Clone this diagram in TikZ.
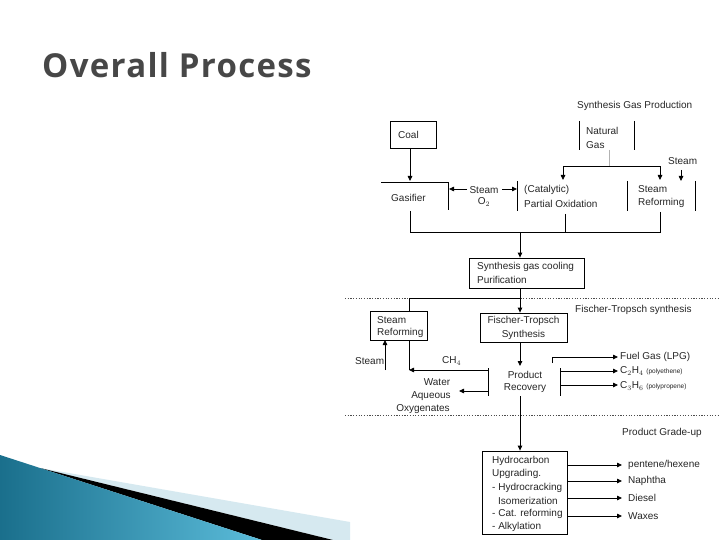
\documentclass[tikz,border=0pt]{standalone}
\usepackage{fontspec}
\setmainfont{Liberation Sans}
\newfontfamily\titlefont[LetterSpace=4]{Open Sans}
\usetikzlibrary{arrows.meta}
\newcommand\smalltxt[1]{{\fontsize{6.5}{7}\selectfont #1}}
\definecolor{tealdark}{HTML}{1A6F8C}
\definecolor{teallight}{HTML}{5BBCDA}
\definecolor{paleblue}{HTML}{D6E9F0}
\begin{document}
\begin{tikzpicture}[x=1pt,y=-1pt,
  lbl/.style={font=\fontsize{10}{11}\selectfont,inner sep=0pt,anchor=west,text=black!85},
  ln/.style={draw=black,line width=0.8pt},
  arr/.style={ln,-{Triangle[length=5pt,width=4.5pt]}},
  bx/.style={draw=black,line width=0.8pt,inner sep=0pt},
  dots/.style={draw=black!70,line width=0.7pt,dash pattern=on 1.2pt off 1.5pt},
  ttl/.style={anchor=base west,inner sep=0pt,font=\titlefont\bfseries\fontsize{33}{40}\selectfont}]
\useasboundingbox (0,0) rectangle (720,540);
\fill[white] (0,0) rectangle (720,540);
% decoration
\fill[paleblue] (40,468) -- (350,522) -- (350,540) -- (333,540) -- cycle;
\fill[black] (40,468) -- (333,540) -- (262,540) -- cycle;
\shade[shading angle=60,left color=tealdark, right color=teallight] (0,455) -- (40,468) -- (262,540) -- (0,540) -- cycle;
% title
\node[ttl,text=black!72] (title) at (42,78) {Overall Process};
% headers
\node[lbl] (h1) at (577,106) {Synthesis Gas Production};
\node[lbl] (h2) at (575,310) {Fischer-Tropsch synthesis};
\node[lbl] (h3) at (622,433) {Product Grade-up};
\path[dots] (345,298) -- (720,298);
\path[dots] (345,415) -- (720,415);
% coal
\draw[ln] (390,121) rectangle (436,148);
\node[lbl] (coal) at (398,135) {Coal};
\coordinate (coalb) at (410,148);
\coordinate (gast) at (410,181);
\draw[arr] (coalb) -- (gast);
% gasifier
\draw[ln] (381,182) -- (448,182) -- (448,210);
\node[lbl] (gas) at (391,198) {Gasifier};
\node[lbl,anchor=center] (st1) at (484,190) {Steam};
\node[lbl,anchor=center] (o2) at (484,202) {O$_2$};
\coordinate (a1) at (467,189); \coordinate (a1e) at (449,189);
\draw[arr] (a1) -- (a1e);
\coordinate (a2) at (502,189); \coordinate (a2e) at (517,189);
\draw[arr] (a2) -- (a2e);
% partial oxidation
\draw[ln] (517,181) -- (517,211);
\node[lbl] (po1) at (524,190) {(Catalytic)};
\node[lbl] (po2) at (524,204) {Partial Oxidation};
% natural gas
\draw[ln] (579,121) -- (579,150);
\draw[ln] (634,121) -- (634,150);
\node[lbl] (ng1) at (586,131) {Natural};
\node[lbl] (ng2) at (586,145) {Gas};
\coordinate (ngb) at (609,150); \coordinate (ngj) at (609,166);
\draw[draw=black!30,line width=0.8pt] (ngb) -- (ngj);
\coordinate (pot) at (563,180); \coordinate (srt) at (660,180);
\draw[arr] (ngj) -| (pot);
\draw[arr] (ngj) -| (srt);
\node[lbl] (st2) at (668,161) {Steam};
\coordinate (s2a) at (681,170); \coordinate (s2b) at (681,181);
\draw[arr] (s2a) -- (s2b);
% steam reforming 1
\draw[ln] (627,181) -- (627,211);
\draw[ln] (695,181) -- (695,211);
\node[lbl] (sr1) at (638,189) {Steam};
\node[lbl] (sr2) at (638,203) {Reforming};
% collector
\coordinate (g1) at (410,211); \coordinate (g2) at (565,214); \coordinate (g3) at (660,212);
\coordinate (cj) at (520,232);
\draw[ln] (g1) |- (cj); \draw[ln] (g2) -- (565,232); \draw[ln] (g3) |- (cj);
\node[bx,minimum width=115pt,minimum height=30pt] (cool) at (526.5,273) {};
\node[lbl] (c1) at (477,267) {Synthesis gas cooling};
\node[lbl] (c2) at (477,280) {Purification};
\draw[arr] (cj) -- (cool.north -| cj);
% FT
\node[bx,minimum width=87pt,minimum height=29pt] (ft) at (523.5,327.5) {};
\node[lbl,anchor=center] (ft1) at (523.5,321) {Fischer-Tropsch};
\node[lbl,anchor=center] (ft2) at (523.5,335) {Synthesis};
\coordinate (coolb) at (520,288);
\draw[arr] (coolb) -- (ft.north -| coolb);
% SR2
\node[bx,minimum width=57pt,minimum height=29pt] (srb) at (398.5,325.5) {};
\node[lbl] (sr3) at (377,320) {Steam};
\node[lbl] (sr4) at (377,333) {Reforming};
\coordinate (sj) at (520,298);
\draw[ln] (sj) -| (409,311);
\node[lbl] (st3) at (355,361) {Steam};
\coordinate (s3a) at (385,370);
\draw[arr] (s3a) -- (385,340);
% product recovery
\draw[ln] (488,368) -- (488,396);
\draw[ln] (560,368) -- (560,396);
\node[lbl,anchor=center] (pr1) at (525,375) {Product};
\node[lbl,anchor=center] (pr2) at (525,388) {Recovery};
\coordinate (ftb) at (520,342);
\draw[arr] (ftb) -- (520,366);
\node[lbl] (ch4) at (442,361) {CH$_4$};
\coordinate (prl) at (488,370); \coordinate (ch4e) at (409,370);
\draw[ln] (409,340) -- (ch4e);
\draw[arr] (prl) -- (ch4e);
\node[lbl,anchor=center] (w1) at (437,382) {Water};
\node[lbl,anchor=center] (w2) at (431,396) {Aqueous};
\node[lbl,anchor=center] (w3) at (423,409) {Oxygenates};
\draw[arr] (488,391) -- (459,391);
% products
\draw[arr] (552,363) |- (618,357);
\node[lbl] (p1) at (620,357) {Fuel Gas (LPG)};
\draw[arr] (560,371) -- (618,371);
\node[lbl] (p2) at (620,371) {C$_2$H$_4$ \smalltxt{(polyethene)}};
\draw[arr] (560,385) -- (618,385);
\node[lbl] (p3) at (620,386) {C$_3$H$_6$ \smalltxt{(polypropene)}};
% HC upgrading
\coordinate (prb) at (520,396);
\node[bx,minimum width=85pt,minimum height=83pt] (hc) at (524.5,492.5) {};
\draw[arr] (prb) -- (hc.north -| prb);
\node[lbl] (u1) at (492,461) {Hydrocarbon};
\node[lbl] (u2) at (492,474) {Upgrading.};
\node[lbl] (u3) at (492,488) {- Hydrocracking};
\node[lbl] (u4) at (498,501) {Isomerization};
\node[lbl] (u5) at (492,514) {- Cat. reforming};
\node[lbl] (u6) at (492,527) {- Alkylation};
\foreach \yy/\lab/\nm in {465/pentene\slash hexene/o1,481/Naphtha/o2,498/Diesel/o3,516/Waxes/o4}{
  \draw[arr] (567,\yy) -- (622,\yy);
  \node[lbl] (\nm) at (628,\yy) {\lab};
}
\end{tikzpicture}
\end{document}
